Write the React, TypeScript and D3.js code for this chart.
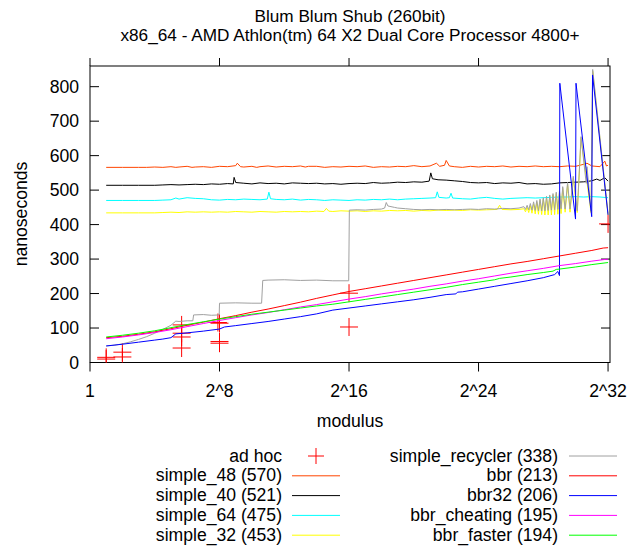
import React from "react";
import * as d3 from "d3";

// x values are log2(modulus), y values are nanoseconds
const titleLines = ["Blum Blum Shub (260bit)", "x86_64 - AMD Athlon(tm) 64 X2 Dual Core Processor 4800+"];
const yTicks = [0, 100, 200, 300, 400, 500, 600, 700, 800];
const xTicks = [0, 8, 16, 24, 32];
const xTickLabels = ["1", "2^8", "2^16", "2^24", "2^32"];

const adHoc: [number, number][] = [
  [1, 15], [1, 10], [2, 30], [2, 16],
  [5.66, 109], [5.66, 85], [5.66, 74], [5.66, 42],
  [7.9, 116], [8, 114], [8, 61], [8, 56],
  [16, 201], [16, 103], [32, 402],
];

const simple48: [number, number][] = [
  [1, 566], [2, 566], [3, 566], [3.5, 566], [4, 567], [4.5, 566], [5, 568], [5.3, 566], [5.5, 567], [6, 569], [6.3, 566], [6.5, 567], [7, 568], [7.5, 566],
  [8, 569], [8.5, 568], [9, 571], [9.1, 578], [9.3, 568], [9.5, 567], [10, 569], [10.3, 566], [10.5, 568], [11, 570], [11.5, 567],
  [12, 569], [12.5, 568], [13, 570], [13.3, 567], [13.5, 569], [14, 569], [14.5, 566], [15, 568], [15.5, 567], [16, 569], [16.5, 568],
  [17, 570], [17.5, 566], [18, 568], [18.5, 567], [19, 569], [19.5, 568], [20, 571], [20.5, 568], [21, 570], [21.4, 578],
  [21.6, 569], [21.9, 572], [22.0, 586], [22.2, 570], [22.5, 568], [23, 566], [23.5, 569], [24, 567], [24.5, 569], [25, 568],
  [25.5, 570], [26, 567], [26.5, 569], [27, 568], [27.5, 570], [28, 568], [28.5, 569], [29, 568], [29.5, 570], [30, 569],
  [30.5, 575], [30.7, 578], [31, 570], [31.5, 568], [31.8, 584], [31.9, 570], [32, 572],
];

const simple40: [number, number][] = [
  [1, 514], [2, 514], [3, 514], [4, 514], [4.5, 515], [5, 516], [5.5, 515], [6, 516], [6.5, 517], [7, 516], [7.5, 518],
  [8, 517], [8.5, 519], [8.85, 518], [8.9, 537], [9.0, 522], [9.5, 520], [10, 518], [10.5, 521], [11, 519], [11.5, 520],
  [12, 518], [12.5, 521], [13, 520], [13.5, 519], [14, 520], [14.5, 518], [15, 519], [15.5, 517], [16, 519], [16.5, 520],
  [17, 519], [17.5, 522], [18, 520], [18.5, 521], [19, 523], [19.5, 522], [20, 524], [20.5, 523], [20.95, 526], [21.05, 550],
  [21.15, 533], [21.5, 530], [22, 529], [22.5, 527], [23, 525], [23.5, 522], [24, 521], [24.5, 522], [25, 519], [25.5, 521],
  [26, 520], [26.5, 522], [27, 518], [27.5, 519], [28, 517], [28.5, 518], [29, 521], [29.5, 522], [30, 523], [30.5, 524],
  [31, 527], [31.3, 532], [31.5, 528], [31.8, 536], [32, 526],
];

const simple64: [number, number][] = [
  [1, 470], [2, 470], [3, 470], [4, 470], [4.5, 471], [5, 472], [5.3, 477], [5.5, 474], [6, 478], [6.5, 476], [7, 475],
  [7.5, 472], [8, 471], [8.5, 473], [9, 472], [9.5, 474], [10, 473], [10.5, 472], [10.95, 474], [11.05, 494], [11.15, 475],
  [11.5, 473], [12, 472], [12.5, 474], [13, 471], [13.5, 473], [14, 472], [14.5, 470], [15, 472], [15.5, 471], [16, 470],
  [16.5, 472], [17, 471], [17.5, 473], [18, 472], [18.5, 474], [19, 472], [19.5, 474], [20, 475], [20.5, 476], [21, 477],
  [21.35, 478], [21.45, 495], [21.55, 479], [22, 477], [22.2, 478], [22.3, 491], [22.4, 477], [23, 475], [23.5, 474],
  [24, 477], [24.5, 479], [25, 476], [25.5, 474], [26, 476], [26.5, 477], [27, 478], [27.5, 477], [28, 478], [28.5, 479],
  [29, 480], [29.5, 480], [30, 481], [30.5, 480], [31, 481], [31.5, 480], [32, 478],
];

const simple32: [number, number][] = [
  [1, 434], [2, 434], [3, 434], [4, 434], [4.5, 435], [5, 436], [5.5, 435], [6, 437], [6.5, 436], [7, 437], [7.5, 436],
  [8, 437], [8.5, 436], [9, 438], [9.5, 437], [10, 436], [10.5, 438], [11, 437], [11.5, 436], [12, 438], [12.5, 437],
  [13, 438], [13.5, 437], [14, 439], [14.45, 438], [14.6, 447], [14.75, 439], [15, 438], [15.5, 440], [16, 439], [16.5, 440],
  [17, 438], [17.5, 440], [18, 439], [18.5, 441], [19, 440], [19.5, 441], [20, 439], [20.5, 441], [21, 440], [21.5, 442],
  [22, 441], [22.5, 442], [23, 441], [23.5, 443], [24, 442], [24.5, 443], [25.15, 444], [25.3, 456], [25.45, 444], [26, 443],
  [26.5, 444], [26.8, 446], [26.9, 437], [27.0, 450], [27.1, 435], [27.2, 455], [27.3, 433], [27.4, 460], [27.5, 431],
  [27.6, 465], [27.7, 430], [27.8, 470], [27.9, 429], [28.0, 474], [28.1, 428], [28.2, 478], [28.3, 428], [28.4, 482],
  [28.5, 428], [28.6, 486], [28.7, 429], [28.8, 490], [28.9, 430], [29.0, 494], [29.1, 432], [29.2, 505], [29.35, 436],
  [29.5, 517], [29.65, 436], [29.85, 535], [30.1, 435], [30.33, 650], [30.95, 435], [31.05, 845], [32, 428],
];

const simpleRecycler: [number, number][] = [
  [1, 48], [1.5, 50], [2, 54], [2.5, 60], [3, 67], [3.5, 75], [4, 85], [4.5, 96], [5, 108], [5.3, 120], [5.5, 119],
  [6, 121], [6.35, 121], [6.4, 138], [7, 139], [7.5, 137], [7.98, 138], [8.0, 172], [9, 173], [10, 172], [10.6, 172],
  [10.67, 238], [11, 239], [12, 240], [13, 238], [14, 239], [15, 237], [15.98, 237], [16.02, 442], [16.5, 443], [17, 442],
  [17.5, 444], [18, 445], [18.2, 448], [18.3, 464], [18.4, 454], [18.8, 450], [19, 448], [19.5, 446], [20, 444],
  [20.5, 443], [21, 444], [21.5, 443], [22, 444], [22.5, 443], [23, 444], [23.5, 445], [24, 444], [24.5, 446], [25, 445],
  [25.5, 447], [26, 446], [26.5, 448], [26.8, 452], [26.9, 444], [27.0, 456], [27.1, 443], [27.2, 461], [27.3, 442],
  [27.4, 466], [27.5, 441], [27.6, 470], [27.7, 440], [27.8, 474], [27.9, 440], [28.0, 478], [28.1, 440], [28.2, 482],
  [28.3, 441], [28.4, 486], [28.5, 442], [28.6, 490], [28.7, 443], [28.8, 494], [28.9, 444], [29.0, 498], [29.1, 446],
  [29.2, 510], [29.35, 445], [29.5, 522], [29.65, 445], [29.85, 540], [30.1, 440], [30.33, 655], [30.65, 520], [30.7, 568],
  [30.95, 440], [31.05, 850], [32, 432],
];

const bbr: [number, number][] = [
  [1, 72], [2, 76], [3, 82], [4, 89], [5, 98], [6, 108], [7, 117], [8, 127], [9, 136], [10, 146], [11, 155], [12, 165],
  [13, 175], [14, 186], [15, 196], [16, 206], [17, 214], [18, 222], [19, 230], [20, 238], [21, 246], [22, 254], [23, 262],
  [24, 270], [25, 278], [26, 286], [27, 293], [28, 301], [29, 309], [30, 317], [31, 325], [31.7, 332], [32, 333],
];

const bbr32: [number, number][] = [
  [1, 48], [2, 53], [3, 59], [4, 65], [4.5, 68], [5, 72], [5.3, 83], [6, 86], [7, 91], [8, 97], [8.3, 103], [9, 107],
  [10, 113], [11, 119], [12, 126], [13, 133], [14, 141], [15, 152], [16, 158], [17, 164], [18, 170], [19, 176], [20, 182],
  [21, 189], [22, 197], [22.6, 199], [22.7, 204], [23, 205], [24, 213], [25, 221], [26, 229], [27, 237], [28, 246],
  [28.7, 255], [28.9, 264], [29.0, 252], [29.02, 810], [29.99, 416], [30.02, 810], [30.99, 423], [31.04, 834], [32, 428],
];

const bbrCheating: [number, number][] = [
  [1, 69], [2, 74], [3, 80], [4, 87], [5, 95], [6, 104], [7, 113], [8, 122], [9, 130], [10, 138], [11, 145], [12, 153],
  [13, 161], [14, 168], [15, 176], [16, 184], [17, 191], [18, 199], [19, 206], [20, 213], [21, 221], [22, 228], [23, 236],
  [24, 243], [25, 251], [26, 259], [27, 266], [28, 273], [29, 281], [30, 287], [31, 294], [32, 300],
];

const bbrFaster: [number, number][] = [
  [1, 74], [2, 79], [3, 85], [4, 92], [5, 101], [6, 110], [7, 118], [8, 126], [9, 133], [10, 140], [11, 146], [12, 152],
  [13, 158], [14, 164], [15, 169], [16, 176], [17, 183], [18, 190], [19, 197], [20, 204], [21, 211], [22, 218], [23, 226],
  [24, 233], [25, 240], [25.3, 244], [26, 248], [27, 255], [28, 261], [28.6, 265], [28.8, 270], [29, 271], [30, 277],
  [31, 284], [32, 290],
];

const seriesNames = ["simple_48 (570)", "simple_40 (521)", "simple_64 (475)", "simple_32 (453)", "simple_recycler (338)", "bbr (213)", "bbr32 (206)", "bbr_cheating (195)", "bbr_faster (194)"];
const seriesData = [simple48, simple40, simple64, simple32, simpleRecycler, bbr, bbr32, bbrCheating, bbrFaster];
const seriesColors = ["#ff4500", "#000000", "#00ffff", "#ffff00", "#a0a0a0", "#ff0000", "#0000ff", "#ff00ff", "#00ff00"];

const FONT = "'Liberation Sans', Arial, Helvetica, sans-serif";

export default function App() {
  const left = 90, right = 610, top = 66, bottom = 362.5;
  const x = d3.scaleLinear().domain([0, 32.12]).range([left, right]);
  const y = d3.scaleLinear().domain([0, 860]).range([bottom, top]);
  const line = d3.line<[number, number]>().x((d) => x(d[0])).y((d) => y(d[1]));

  const legendLeft = [{ name: "ad hoc", color: "#ff0000", cross: true }, ...seriesNames.slice(0, 4).map((n, i) => ({ name: n, color: seriesColors[i], cross: false }))];
  const legendRight = seriesNames.slice(4).map((n, i) => ({ name: n, color: seriesColors[i + 4], cross: false }));
  const rowY = (i: number) => 456 + i * 19.8;

  return (
    <svg width={644} height={549} style={{ position: "absolute", left: 0, top: 0, background: "#fff" }} fontFamily={FONT} fontSize={17.6}>
      <rect x={0} y={0} width={644} height={549} fill="#fff" />
      {titleLines.map((t, i) => (
        <text key={t} x={350} y={22 + i * 19} textAnchor="middle" fill="#000" fontSize={17.2}>{t}</text>
      ))}
      <defs>
        <clipPath id="plotclip">
          <rect x={left} y={top} width={right - left} height={bottom - top} />
        </clipPath>
      </defs>
      <rect x={left} y={top} width={right - left} height={bottom - top} fill="none" stroke="#000" strokeWidth={1} />
      {yTicks.map((t) => (
        <g key={t}>
          <line x1={left} x2={left + 9} y1={y(t)} y2={y(t)} stroke="#000" />
          <line x1={right - 9} x2={right} y1={y(t)} y2={y(t)} stroke="#000" />
          <text x={79} y={y(t) + 6} textAnchor="end">{t}</text>
        </g>
      ))}
      {xTicks.map((t, i) => (
        <g key={t}>
          <line x1={x(t)} x2={x(t)} y1={bottom} y2={bottom + 9} stroke="#000" />
          <line x1={x(t)} x2={x(t)} y1={top - 8} y2={top} stroke="#000" />
          <text x={x(t)} y={396.7} textAnchor="middle">{xTickLabels[i]}</text>
        </g>
      ))}
      <text x={350} y={427} textAnchor="middle">modulus</text>
      <text transform="translate(27,214) rotate(-90)" textAnchor="middle">nanoseconds</text>

      <g clipPath="url(#plotclip)">
        {adHoc.map((d, i) => (
          <g key={i} stroke="#ff0000" strokeWidth={1}>
            <line x1={x(d[0]) - 9} x2={x(d[0]) + 9} y1={y(d[1])} y2={y(d[1])} />
            <line x1={x(d[0])} x2={x(d[0])} y1={y(d[1]) - 9} y2={y(d[1]) + 9} />
          </g>
        ))}
        {seriesData.map((s, i) => (
          <path key={i} d={line(s) || ""} fill="none" stroke={seriesColors[i]} strokeWidth={1} />
        ))}
      </g>

      {legendLeft.map((e, i) => (
        <g key={e.name}>
          <text x={282} y={rowY(i) + 5.5} textAnchor="end">{e.name}</text>
          {e.cross ? (
            <g stroke={e.color}>
              <line x1={308} x2={324} y1={rowY(i)} y2={rowY(i)} />
              <line x1={316} x2={316} y1={rowY(i) - 8} y2={rowY(i) + 8} />
            </g>
          ) : (
            <line x1={292} x2={340} y1={rowY(i)} y2={rowY(i)} stroke={e.color} />
          )}
        </g>
      ))}
      {legendRight.map((e, i) => (
        <g key={e.name}>
          <text x={558} y={rowY(i) + 5.5} textAnchor="end">{e.name}</text>
          <line x1={569} x2={617} y1={rowY(i)} y2={rowY(i)} stroke={e.color} />
        </g>
      ))}
    </svg>
  );
}
